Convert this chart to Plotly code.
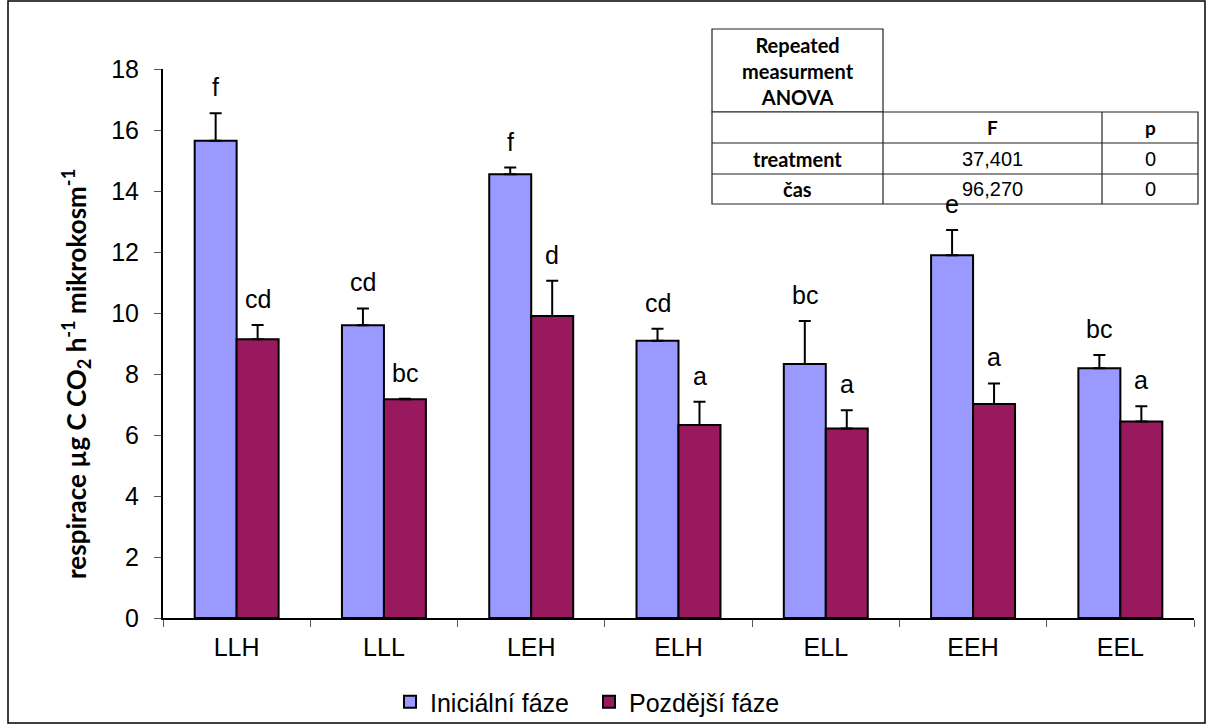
import plotly.graph_objects as go

# Treatments on the x axis
treatments = ["LLH", "LLL", "LEH", "ELH", "ELL", "EEH", "EEL"]

# Mean respiration and upper error for each phase
initial = [15.65, 9.60, 14.55, 9.09, 8.33, 11.89, 8.19]
initial_err = [0.90, 0.55, 0.22, 0.39, 1.41, 0.83, 0.43]
later = [9.14, 7.17, 9.90, 6.33, 6.21, 7.02, 6.44]
later_err = [0.47, 0.02, 1.16, 0.76, 0.60, 0.67, 0.50]

# Significance groups
initial_groups = ["f", "cd", "f", "cd", "bc", "e", "bc"]
later_groups = ["cd", "bc", "d", "a", "a", "a", "a"]

# ANOVA summary
anova_header = "Repeated<br>measurment<br>ANOVA"
anova_cols = ["F", "p"]
anova_rows = ["treatment", "čas"]
anova_F = ["37,401", "96,270"]
anova_p = ["0", "0"]

W, H = 1207, 725
L, R, T, B = 163, 1194, 69, 618  # plot area in pixels

def px(x):
    return (x - L) / (R - L)

def py(y):
    return (B - y) / (B - T)

BLUE = "#9999FF"
RED = "#99195E"
FONT = "Liberation Sans, Arial, sans-serif"
BOLD = "Lato, Carlito, sans-serif"

fig = go.Figure()
fig.add_trace(go.Bar(
    name="Iniciální fáze", x=treatments, y=initial,
    marker=dict(color=BLUE, line=dict(color="black", width=2)),
    error_y=dict(type="data", symmetric=False, array=initial_err,
                 arrayminus=[0] * len(initial), color="black", thickness=2, width=6),
))
fig.add_trace(go.Bar(
    name="Pozdější fáze", x=treatments, y=later,
    marker=dict(color=RED, line=dict(color="black", width=2)),
    error_y=dict(type="data", symmetric=False, array=later_err,
                 arrayminus=[0] * len(later), color="black", thickness=2, width=6),
))

annotations = []
for vals, errs, groups, shift in ((initial, initial_err, initial_groups, -21),
                                  (later, later_err, later_groups, 21)):
    for cat, v, e, g in zip(treatments, vals, errs, groups):
        annotations.append(dict(
            x=cat, y=v + e, xref="x", yref="y", text=g, showarrow=False,
            xshift=shift, yshift=26, yanchor="middle",
            font=dict(family=FONT, size=25, color="black"),
        ))

# y-axis title
annotations.append(dict(
    x=px(76), y=py(374), xref="paper", yref="paper", textangle=-90,
    text="respirace µg C CO<sub>2</sub> h<sup>-1</sup> mikrokosm<sup>-1</sup>",
    showarrow=False, xanchor="center", yanchor="middle",
    font=dict(family=BOLD, size=26, color="black", weight="bold"),
))

shapes = []
# outer frame
shapes.append(dict(type="rect", xref="paper", yref="paper",
                   x0=px(8), x1=px(1205), y0=py(723), y1=py(1),
                   line=dict(color="black", width=1.5), fillcolor="rgba(0,0,0,0)", layer="below"))

# ANOVA table
cx = [712, 883, 1102, 1198]
ry = [29, 112, 143, 174, 204]
line_style = dict(color="#222222", width=1.2)
shapes.append(dict(type="rect", xref="paper", yref="paper",
                   x0=px(cx[0]), x1=px(cx[1]), y0=py(ry[1]), y1=py(ry[0]),
                   line=line_style, fillcolor="white"))
shapes.append(dict(type="rect", xref="paper", yref="paper",
                   x0=px(cx[0]), x1=px(cx[3]), y0=py(ry[4]), y1=py(ry[1]),
                   line=line_style, fillcolor="white"))
for yy in ry[2:4]:
    shapes.append(dict(type="line", xref="paper", yref="paper",
                       x0=px(cx[0]), x1=px(cx[3]), y0=py(yy), y1=py(yy), line=line_style))
for xx in cx[1:3]:
    shapes.append(dict(type="line", xref="paper", yref="paper",
                       x0=px(xx), x1=px(xx), y0=py(ry[4]), y1=py(ry[1]), line=line_style))

def cell(text, c, r, bold=False, size=16):
    xm = (cx[c] + cx[c + 1]) / 2
    ym = (ry[r] + ry[r + 1]) / 2
    annotations.append(dict(
        x=px(xm), y=py(ym), xref="paper", yref="paper", text=text, showarrow=False,
        xanchor="center", yanchor="middle",
        font=dict(family=BOLD if bold else FONT, size=size, color="black",
                  weight="bold" if bold else "normal"),
    ))

cell(anova_header, 0, 0, bold=True, size=20)
for j, col in enumerate(anova_cols):
    cell(col, j + 1, 1, bold=True, size=19)
for i, row in enumerate(anova_rows):
    cell(row, 0, 2 + i, bold=True, size=20)
    cell(anova_F[i], 1, 2 + i, size=20)
    cell(anova_p[i], 2, 2 + i, size=20)

fig.update_layout(
    width=W, height=H,
    margin=dict(l=L, r=W - R, t=T, b=H - B, autoexpand=False),
    paper_bgcolor="white", plot_bgcolor="white",
    barmode="group", bargap=0.43, bargroupgap=0,
    font=dict(family=FONT, size=25, color="black"),
    showlegend=True,
    legend=dict(orientation="h", x=px(390), xanchor="left", y=py(702), yanchor="middle",
                font=dict(family=FONT, size=25, color="black"),
                entrywidth=154, entrywidthmode="pixels",
                bgcolor="rgba(0,0,0,0)", tracegroupgap=0),
    annotations=annotations, shapes=shapes,
)
fig.update_xaxes(
    type="category", showline=True, linecolor="black", linewidth=2,
    ticks="outside", ticklen=7, tickwidth=1, tickcolor="#555555", tickson="boundaries",
    showgrid=False, zeroline=False, tickfont=dict(family=FONT, size=25),
    ticklabelstandoff=6,
)
fig.update_yaxes(
    range=[0, 18], dtick=2, showline=True, linecolor="black", linewidth=2,
    ticks="outside", ticklen=7, tickwidth=1, tickcolor="#555555",
    showgrid=False, zeroline=False, tickfont=dict(family=FONT, size=25),
    ticklabelstandoff=10,
)

fig.write_html("out.html")
